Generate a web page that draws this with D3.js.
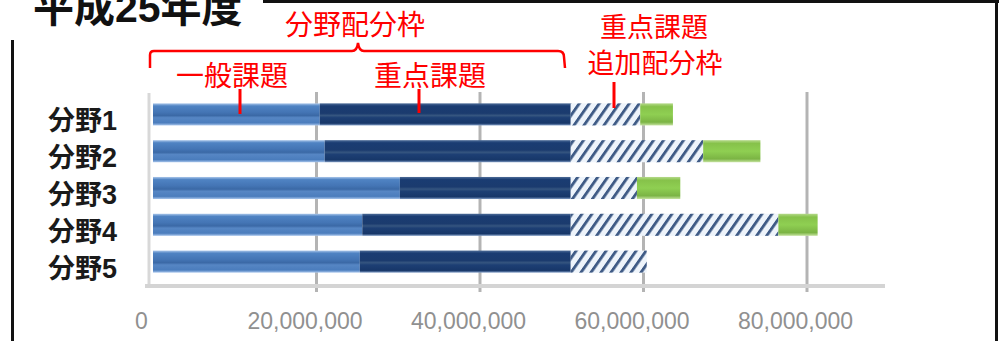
<!DOCTYPE html>
<html><head><meta charset="utf-8">
<script src="https://cdn.jsdelivr.net/npm/d3@7"></script>
<style>
html,body{margin:0;padding:0;background:#fff;}
svg{display:block;}
</style></head>
<body>
<svg id="chart" width="999" height="341"></svg>
<script>
// ---- data ----
const categories = ["分野1", "分野2", "分野3", "分野4", "分野5"];
const generalValues    = [20400000, 21000000, 30200000, 25600000, 25300000]; // 一般課題
const priorityValues   = [30700000, 30100000, 20900000, 25500000, 25800000]; // 重点課題
const additionalValues = [8500000, 16200000, 8100000, 25400000, 9300000];    // 重点課題追加配分枠
const extraValues      = [4000000, 7000000, 5300000, 4800000, 0];            // green segment
const tickValues = [0, 20000000, 40000000, 60000000, 80000000];
const titleText = "平成25年度";

const svg = d3.select("#chart");
const defs = svg.append("defs");

function vgrad(id, stops) {
  const g = defs.append("linearGradient").attr("id", id)
    .attr("x1", 0).attr("y1", 0).attr("x2", 0).attr("y2", 1);
  stops.forEach(s => g.append("stop").attr("offset", s[0]).attr("stop-color", s[1]));
}
vgrad("gGeneral", [["0%", "#a9c6ea"], ["12%", "#4f83c3"], ["40%", "#4475b5"], ["55%", "#3b69a6"], ["65%", "#5686c4"], ["88%", "#4b7dbd"], ["100%", "#a7c5ec"]]);
vgrad("gPriority", [["0%", "#4d6c98"], ["12%", "#1a3c72"], ["45%", "#1b3b6e"], ["55%", "#35557f"], ["65%", "#1d3f74"], ["90%", "#173769"], ["100%", "#7f9bc4"]]);
vgrad("gExtra", [["0%", "#b5d98a"], ["15%", "#86c24a"], ["50%", "#8fcf52"], ["85%", "#7bb444"], ["100%", "#c6e3a0"]]);

const pat = defs.append("pattern").attr("id", "hatch")
  .attr("patternUnits", "userSpaceOnUse").attr("width", 10).attr("height", 10)
  .attr("patternTransform", "skewX(-35)");
pat.append("rect").attr("width", 10).attr("height", 10).attr("fill", "#eef4fb");
pat.append("rect").attr("x", 0).attr("width", 3.5).attr("height", 10).attr("fill", "#3f5b86");

// ---- scales ----
const x = d3.scaleLinear().domain([0, 80000000]).range([153, 807]);
const y = d3.scaleBand().domain(categories).range([96, 280]).paddingInner(0.4).paddingOuter(0.2);

// ---- frame ----
svg.append("line").attr("x1", 263).attr("x2", 999).attr("y1", 1.5).attr("y2", 1.5).attr("stroke", "#111").attr("stroke-width", 3);
svg.append("line").attr("x1", 996.5).attr("x2", 996.5).attr("y1", 0).attr("y2", 341).attr("stroke", "#111").attr("stroke-width", 3);
svg.append("line").attr("x1", 12.5).attr("x2", 12.5).attr("y1", 40).attr("y2", 341).attr("stroke", "#111").attr("stroke-width", 3);

// ---- title (top clipped as in the reference) ----
svg.append("text").attr("x", 33).attr("y", 22)
  .attr("font-family", "'Liberation Sans','Noto Sans CJK JP',sans-serif")
  .attr("font-weight", "bold").attr("font-size", 41).attr("fill", "#111")
  .text(titleText);

// ---- gridlines ----
svg.append("g").selectAll("line").data(tickValues.filter(d => d > 0)).join("line")
  .attr("x1", d => x(d)).attr("x2", d => x(d))
  .attr("y1", 92).attr("y2", 292)
  .attr("stroke", "#b4b4b4").attr("stroke-width", 3);
// y axis line
svg.append("line").attr("x1", 149).attr("x2", 149).attr("y1", 93).attr("y2", 288)
  .attr("stroke", "#d8d8d8").attr("stroke-width", 3);
// x axis baseline
svg.append("line").attr("x1", 145).attr("x2", 885).attr("y1", 286).attr("y2", 286)
  .attr("stroke", "#d4d4d4").attr("stroke-width", 4);

// ---- bars ----
const stacks = categories.map((c, i) => {
  const a = generalValues[i], b = a + priorityValues[i], cc = b + additionalValues[i], d = cc + extraValues[i];
  return {c, segs: [
    {x0: 0, x1: a, fill: "url(#gGeneral)"},
    {x0: a, x1: b, fill: "url(#gPriority)"},
    {x0: b, x1: cc, fill: "url(#hatch)"},
    {x0: cc, x1: d, fill: "url(#gExtra)"}
  ]};
});
const bh = y.bandwidth();
const gb = svg.append("g");
stacks.forEach(s => {
  gb.selectAll(null).data(s.segs.filter(d => d.x1 > d.x0)).join("rect")
    .attr("x", d => x(d.x0)).attr("width", d => x(d.x1) - x(d.x0))
    .attr("y", y(s.c)).attr("height", bh)
    .attr("fill", d => d.fill);
});

// ---- category labels ----
svg.append("g").selectAll("text").data(categories).join("text")
  .attr("x", 117).attr("y", d => y(d) + bh / 2 + 7)
  .attr("text-anchor", "end").attr("dominant-baseline", "central")
  .attr("font-family", "'Liberation Sans','Noto Sans CJK JP',sans-serif")
  .attr("font-weight", "bold").attr("font-size", 27).attr("fill", "#1a1a1a")
  .text(d => d);

// ---- x axis labels ----
const ax = svg.append("g").attr("transform", "translate(0,286)")
  .call(d3.axisBottom(x).tickValues(tickValues).tickFormat(d3.format(",")).tickSize(0).tickPadding(27));
ax.select(".domain").remove();
ax.selectAll("text").attr("dx", -12)
  .attr("font-family", "'Liberation Sans',sans-serif").attr("font-size", 23).attr("fill", "#909090");

// ---- annotations ----
const red = "#ff0000";
const fontR = "'Noto Sans CJK JP',sans-serif";
function rtext(t, cx, cy, fs) {
  svg.append("text").attr("x", cx).attr("y", cy).attr("text-anchor", "middle")
    .attr("dominant-baseline", "central").attr("font-family", fontR)
    .attr("font-size", fs).attr("fill", red).text(t);
}
rtext("分野配分枠", 355, 23, 28);
rtext("一般課題", 232, 74, 28);
rtext("重点課題", 430, 74, 28);
rtext("重点課題", 654, 25, 27);
rtext("追加配分枠", 655, 61, 27);

svg.append("path")
  .attr("d", "M150,68 L150,55 Q150,51 154,51 L352,51 Q357,51 358,43 Q359,51 364,51 L558,51 Q564,51 564,57 L565,68")
  .attr("fill", "none").attr("stroke", red).attr("stroke-width", 2.5);
[[240, 89, 114], [419, 89, 113], [614, 82, 108]].forEach(p => {
  svg.append("line").attr("x1", p[0]).attr("x2", p[0]).attr("y1", p[1]).attr("y2", p[2])
    .attr("stroke", red).attr("stroke-width", 3);
});
</script>
</body></html>
